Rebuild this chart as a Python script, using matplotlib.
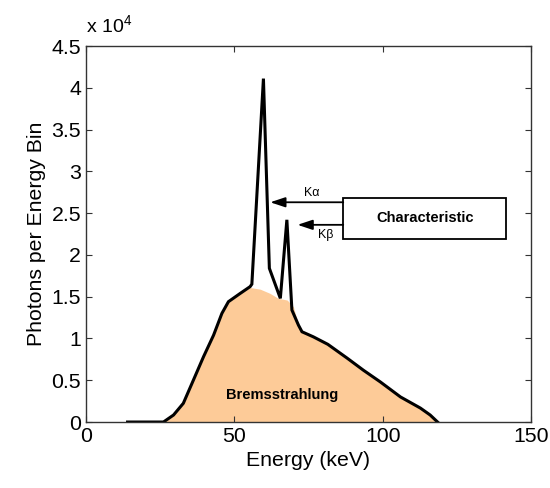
import numpy as np
import matplotlib
matplotlib.use("Agg")
import matplotlib.pyplot as plt

plt.rcParams['font.family'] = 'Liberation Sans'
plt.rcParams['mathtext.fontset'] = 'custom'
plt.rcParams['mathtext.rm'] = 'Liberation Sans'

# espectro total (linea negra)
energy = [14, 25, 26.1, 29.5, 32.8, 36.2, 39.6, 43, 45.8, 48, 52, 55.3, 55.9,
          59.8, 61.8, 65.5, 67.7, 69.4, 71.6, 72.8, 76.6, 81.5, 88, 93.5,
          99.2, 106, 112.7, 116, 118.5]
counts = [0, 0, 0, 840, 2240, 5020, 7810, 10400, 13000, 14400, 15400, 16200, 16500,
          41100, 18400, 14800, 24200, 13400, 11600, 10800, 10200, 9300, 7650, 6200,
          4800, 3000, 1670, 840, 0]

# continuo de frenado (relleno)
brems_energy = [26.1, 29.5, 32.8, 36.2, 39.6, 43, 45.8, 48, 52, 55.3, 58.7, 62,
                64.8, 67.8, 69.9, 71.6, 72.8, 76.6, 81.5, 88, 93.5, 99.2, 106,
                112.7, 116, 118.5]
brems_counts = [0, 840, 2240, 5020, 7810, 10400, 13000, 14400, 15400, 16100, 15900, 15400,
                14800, 14600, 13800, 11600, 10800, 10200, 9300, 7650, 6200, 4800, 3000,
                1670, 840, 0]

fig = plt.figure(figsize=(5.5, 4.88), dpi=100)
ax = fig.add_axes([0.1564, 0.1352, 0.8091, 0.7705])

ax.fill_between(brems_energy, brems_counts, color='#FDCB98', lw=0)
ax.plot(energy, counts, color='black', lw=2.2, solid_joinstyle='miter')

ax.set_xlim(0, 150)
ax.set_ylim(0, 45000)
ax.set_xticks([0, 50, 100, 150])
ax.set_yticks(np.arange(0, 45001, 5000))
ax.set_yticklabels(['0', '0.5', '1', '1.5', '2', '2.5', '3', '3.5', '4', '4.5'])
ax.tick_params(direction='in', top=True, right=True, labelsize=15.3,
               length=4, width=0.8, color='#333333')
for s in ax.spines.values():
    s.set_color('#333333')
    s.set_linewidth(1)

ax.set_xlabel('Energy (keV)', fontsize=15.3)
ax.set_ylabel('Photons per Energy Bin', fontsize=15.3)
ax.text(0, 1.025, r'x 10$^4$', transform=ax.transAxes, fontsize=14,
        ha='left', va='bottom')

ax.text(66, 3200, 'Bremsstrahlung', fontsize=10.5, fontweight='bold',
        ha='center', va='center')

# caja de lineas caracteristicas
ax.add_patch(plt.Rectangle((86.7, 21900), 54.7, 4900, fill=False,
                           edgecolor='black', lw=1.3))
ax.text(114.4, 24400, 'Characteristic', fontsize=10.5, fontweight='bold',
        ha='center', va='center')

arrow = dict(arrowstyle='-|>,head_length=0.9,head_width=0.3', color='black',
             lw=1.3, shrinkA=0, shrinkB=0)
ax.annotate('', xy=(62.1, 26300), xytext=(86.7, 26300), arrowprops=arrow)
ax.annotate('', xy=(71.3, 23600), xytext=(86.7, 23600), arrowprops=arrow)
ax.text(76.2, 27400, 'Kα', fontsize=9, ha='center', va='center')
ax.text(80.7, 22400, 'Kβ', fontsize=9, ha='center', va='center')

fig.savefig('out.png', dpi=100)
